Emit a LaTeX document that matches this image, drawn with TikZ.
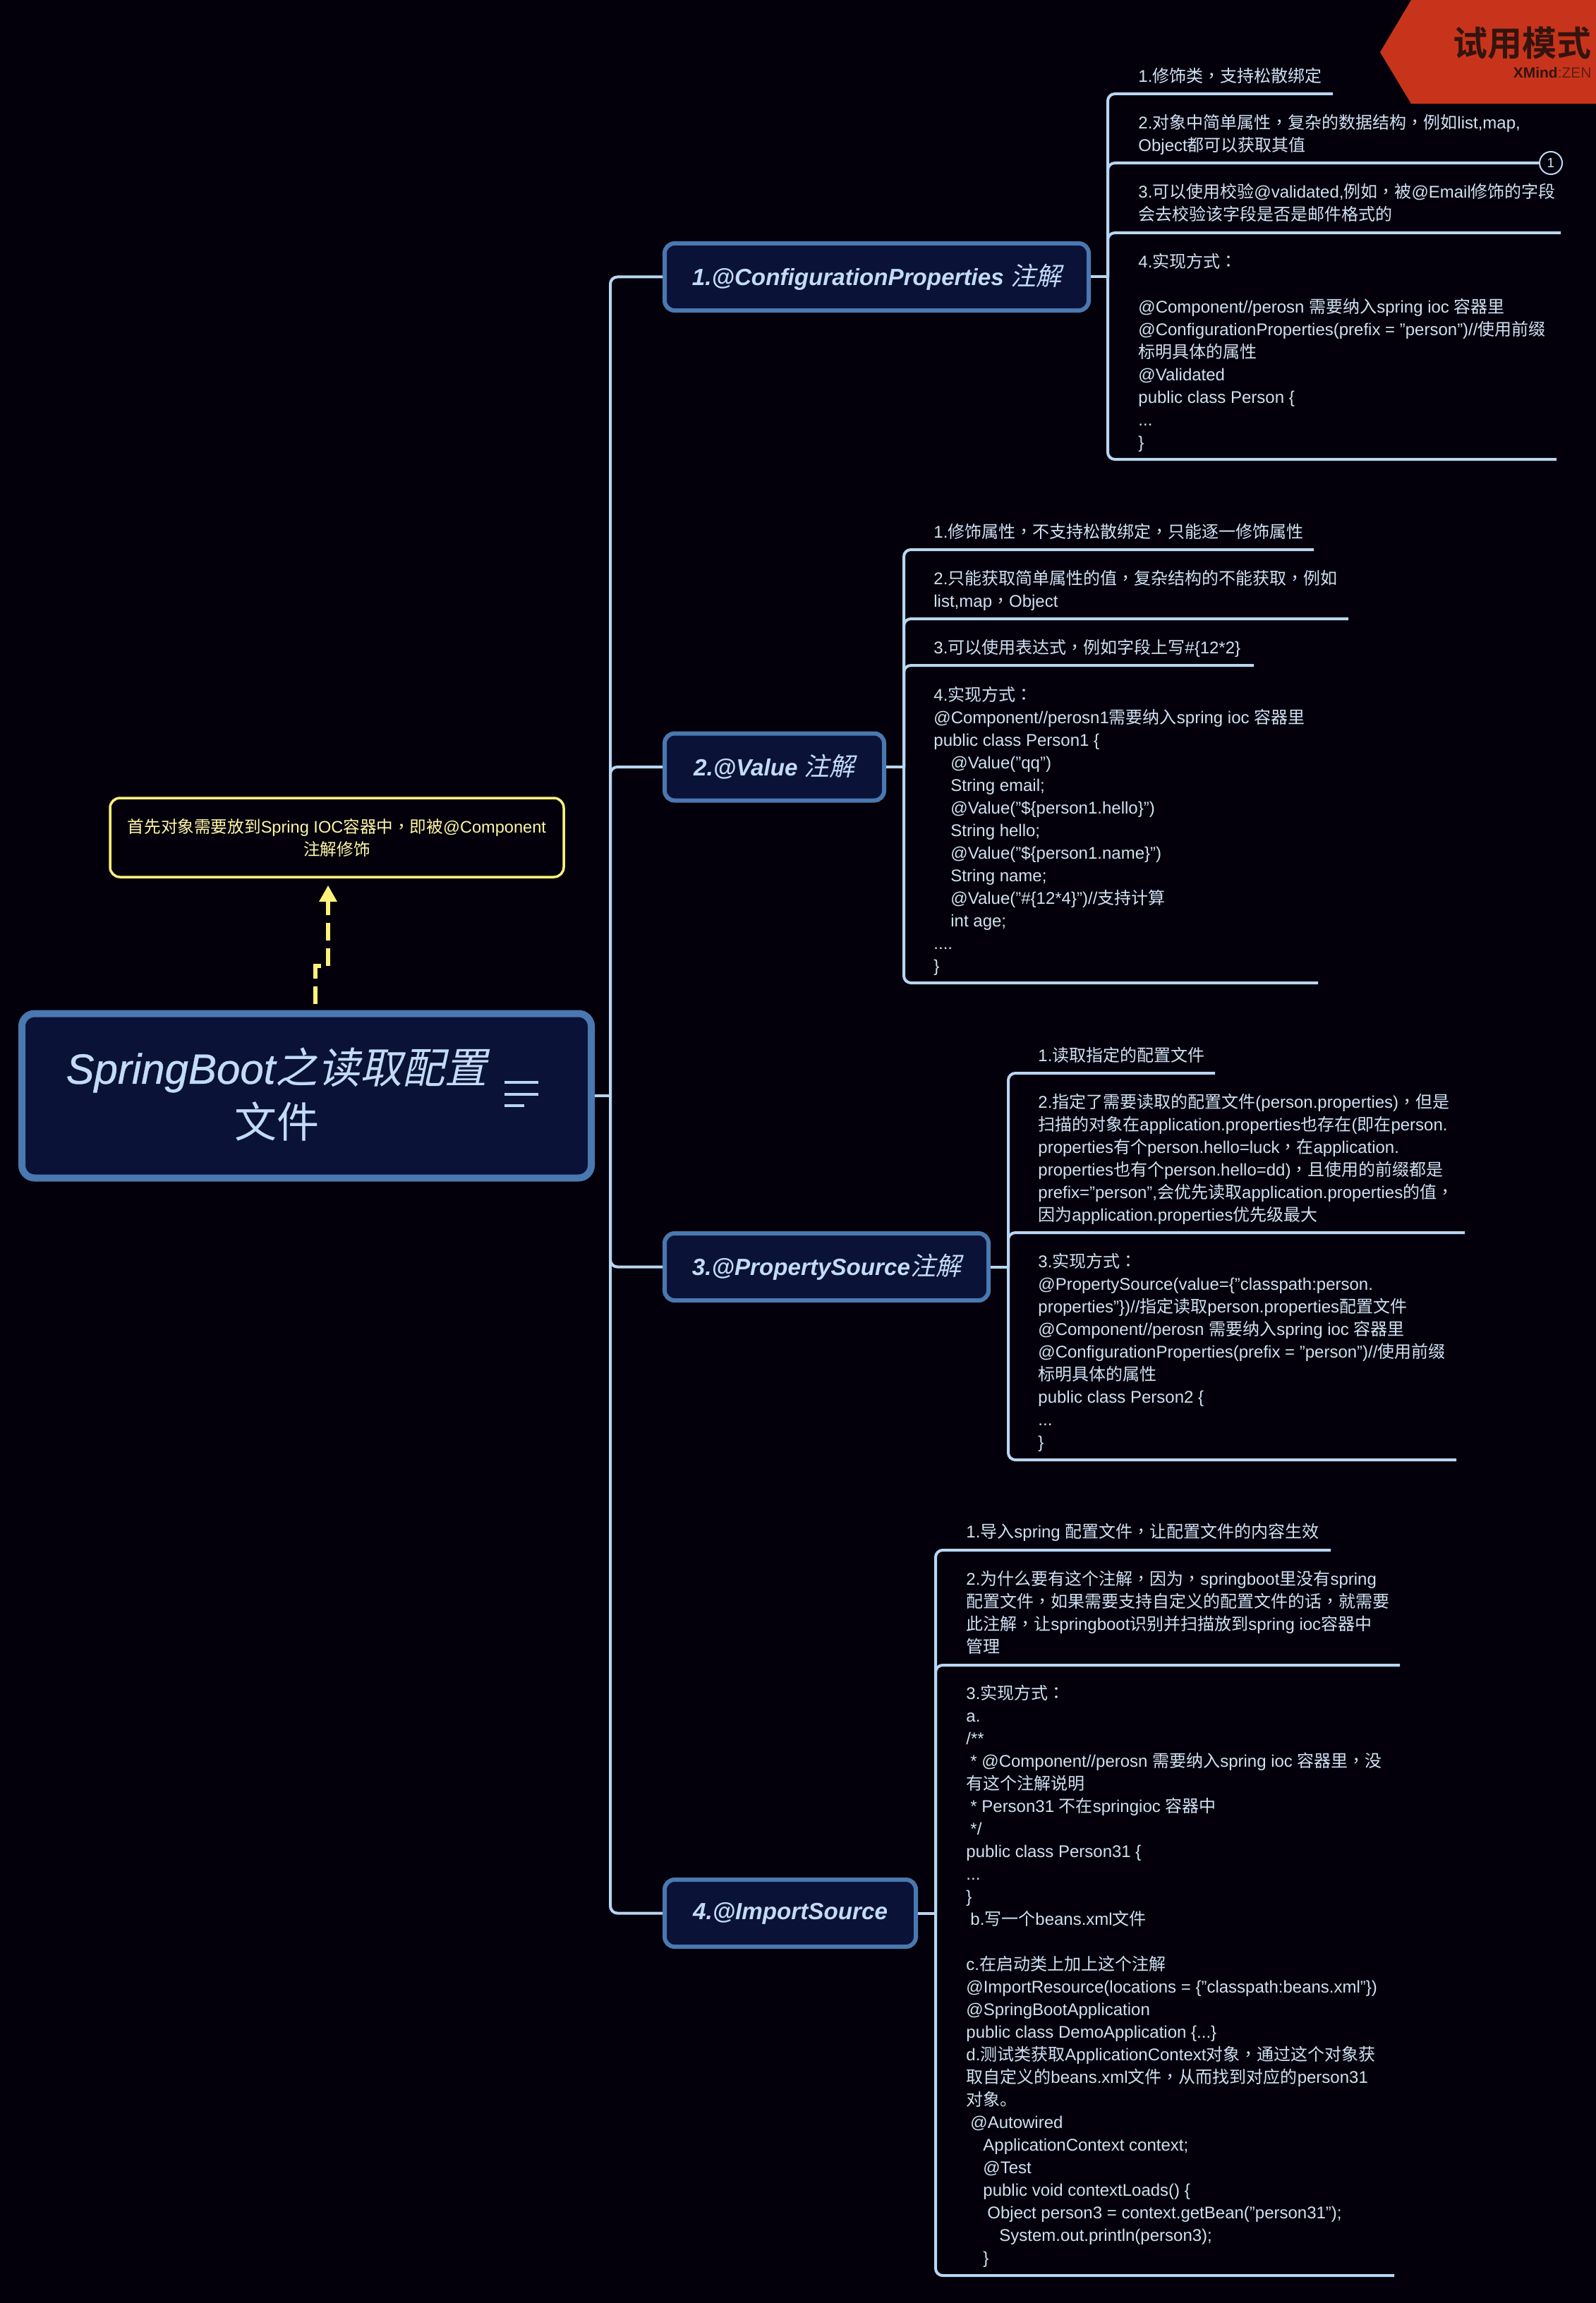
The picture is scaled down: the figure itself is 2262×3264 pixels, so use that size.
\documentclass[tikz,border=0pt]{standalone}
\usepackage{fontspec}
\usetikzlibrary{arrows.meta}
\setmainfont{Liberation Sans}
\newfontfamily\cjk{Noto Sans CJK SC}
\newfontfamily\cjkp{Noto Sans CJK TC}
\newfontfamily\cjkslant[FakeSlant=0.22]{Noto Sans CJK SC}
\newfontfamily\cjkbold[BoldFont=*]{Noto Sans CJK SC Bold}
\newfontfamily\rootlatin[ItalicFont=*,FakeSlant=0.0,FakeBold=0.6]{Liberation Sans Italic}
\newcount\cjkcc
\newXeTeXintercharclass\cjkcl
\newXeTeXintercharclass\cjkpu
\cjkcc="2E80 \loop \XeTeXcharclass\cjkcc=\cjkcl \advance\cjkcc 1 \ifnum\cjkcc<"A000 \repeat
\cjkcc="FF00 \loop \XeTeXcharclass\cjkcc=\cjkcl \advance\cjkcc 1 \ifnum\cjkcc<"FFF0 \repeat
\XeTeXcharclass"FF0C=\cjkpu
\XeTeXcharclass"FF1A=\cjkpu
\XeTeXinterchartoks 0 \cjkcl={\cjk}
\XeTeXinterchartoks 4095 \cjkcl={\cjk}
\XeTeXinterchartoks \cjkcl 0={\rmfamily}
\XeTeXinterchartoks \cjkcl 4095={\rmfamily}
\XeTeXinterchartoks 0 \cjkpu={\cjkp}
\XeTeXinterchartoks 4095 \cjkpu={\cjkp}
\XeTeXinterchartoks \cjkcl \cjkpu={\cjkp}
\XeTeXinterchartoks \cjkpu \cjkcl={\cjk}
\XeTeXinterchartoks \cjkpu 0={\rmfamily}
\XeTeXinterchartoks \cjkpu 4095={\rmfamily}
\XeTeXinterchartokenstate=1
\newcommand{\txtstrut}{\rule[-5pt]{0pt}{11pt}}
\newcommand{\ind}[1]{\hspace*{#1pt}}
\newcommand{\ttl}[2]{\XeTeXinterchartokenstate=0 \raisebox{-0.5pt}{\fontsize{16.6}{20}\selectfont\textbf{\textit{#1}}{\fontsize{18}{20}\selectfont\cjkslant #2}}}
\definecolor{bgc}{HTML}{04000B}
\definecolor{linec}{HTML}{B9D6F2}
\definecolor{txtc}{HTML}{D0E2F4}
\definecolor{ttlc}{HTML}{C2DBF7}
\definecolor{topicfill}{HTML}{0A1238}
\definecolor{topicline}{HTML}{4A78B0}
\definecolor{yel}{HTML}{FFF27A}
\definecolor{yeltxt}{HTML}{FFF8A8}
\definecolor{banner}{HTML}{C8341B}
\definecolor{bantxt}{HTML}{33140E}
\tikzset{
  txt/.style={anchor=north west,yshift=6pt,inner sep=0pt,align=left,text=txtc,
    font=\fontsize{12}{16}\selectfont,execute at begin node=\txtstrut},
  topic/.style={draw=topicline,line width=3pt,fill=topicfill,rounded corners=7pt,
    text=ttlc,inner sep=0pt,font=\fontsize{17}{20}\selectfont},
  conn/.style={draw=linec,line width=2pt,rounded corners=5pt},
  stub/.style={draw=linec,line width=2pt},
}
\begin{document}
\begin{tikzpicture}[x=0.5pt,y=-0.5pt]
\useasboundingbox (0,0) rectangle (2262,3264);
\fill[bgc] (0,0) rectangle (2262,3264);
% banner
\fill[banner] (2000,0) -- (1956,74) -- (2000,147) -- (2262,147) -- (2262,0) -- cycle;
\node[anchor=east,inner sep=0pt,text=bantxt,font=\fontsize{24.5}{28}\selectfont] (ban1) at (2256,61) {\XeTeXinterchartokenstate=0 \cjkbold 试用模式};
\node[anchor=east,inner sep=0pt,text=bantxt,font=\fontsize{10.5}{12}\selectfont] (ban2) at (2256,103) {\textbf{XMind}\textcolor{bantxt!70!banner}{:ZEN}};
% root
\node[topic,line width=5pt,rounded corners=9pt,minimum width=403.5pt,minimum height=116.5pt] (root) at (434.5,1553) {};
\node[anchor=center,inner sep=0pt,text=ttlc,font=\fontsize{30}{38.5}\selectfont,align=center] (rootlabel) at (392,1551.5)
  {\XeTeXinterchartokenstate=0 {\rootlatin SpringBoot}{\cjkslant 之读取配置}\\{\cjkslant 文件}};
\draw[line width=2pt,linec] (715,1534) -- (763,1534) (715,1551) -- (763,1551) (715,1567) -- (743,1567);
% note
\node[draw=yel,line width=1.75pt,rounded corners=7pt,minimum width=321.5pt,minimum height=56pt,inner sep=0pt,
  text=yeltxt,align=center,font=\fontsize{11.8}{16}\selectfont,fill=bgc] (note) at (477.5,1187)
  {首先对象需要放到Spring IOC容器中，即被@Component\\注解修饰};
\coordinate (kink) at (465,1369);
\draw[yel,line width=2.75pt,dash pattern=on 12.5pt off 5.5pt,shorten <=4.5pt,shorten >=5pt,-{Triangle[length=11.5pt,width=12pt]}]
  ([xshift=6.25pt]root.north) |- (kink) -- ([xshift=-6.25pt]note.south);
% topics
\node[topic,minimum width=300.5pt,minimum height=47.5pt] (t1) at (1242.5,392.5) {\ttl{1.@ConfigurationProperties }{注解}};
\node[topic,minimum width=155.5pt,minimum height=47.5pt] (t2) at (1097.5,1087) {\ttl{2.@Value }{注解}};
\node[topic,minimum width=229.5pt,minimum height=47.5pt] (t3) at (1171.5,1795.5) {\ttl{3.@PropertySource}{注解}};
\node[topic,minimum width=178pt,minimum height=47.5pt] (t4) at (1120,2711.5) {\ttl{4.@ImportSource}{}};
% main connectors
\coordinate (mt) at (865,1553);
\draw[stub] (root.east) -- (mt);
\draw[conn] (mt) |- (t1.west);
\draw[conn] (mt) |- (t2.west);
\draw[conn] (mt) |- (t3.west);
\draw[conn] (mt) |- (t4.west);
% branch 1
\coordinate (b1) at (1570,392.5);
\coordinate (u11) at (1889,133);
\coordinate (u13) at (2212,330);
\coordinate (u14) at (2206,651);
\node[draw=linec!90!white,line width=1pt,circle,minimum size=16pt,inner sep=0pt,fill=bgc,text=txtc,font=\fontsize{9.5}{10}\selectfont] (badge) at (2198,231) {1};
\draw[stub] (t1.east) -- (b1);
\draw[conn] (b1) |- (u11);
\draw[conn] (b1) |- (badge.west);
\draw[conn] (b1) |- (u13);
\draw[conn] (b1) |- (u14);
\node[txt] (c11) at (1613,107.5) {1.修饰类，支持松散绑定};
\node[txt] (c12) at (1613,174) {2.对象中简单属性，复杂的数据结构，例如list,map,\\Object都可以获取其值};
\node[txt] (c13) at (1613,272) {3.可以使用校验@validated,例如，被@Email修饰的字段\\会去校验该字段是否是邮件格式的};
\node[txt] (c14) at (1613,371) {4.实现方式：\\[16pt]@Component//perosn 需要纳入spring ioc 容器里\\@ConfigurationProperties(prefix = "person")//使用前缀\\标明具体的属性\\@Validated\\public class Person \{\\...\\\}};
% branch 2
\coordinate (b2) at (1281,1087);
\coordinate (u21) at (1862,779);
\coordinate (u22) at (1911,877);
\coordinate (u23) at (1777,943);
\coordinate (u24) at (1868,1393);
\draw[stub] (t2.east) -- (b2);
\draw[conn] (b2) |- (u21);
\draw[conn] (b2) |- (u22);
\draw[conn] (b2) |- (u23);
\draw[conn] (b2) |- (u24);
\node[txt] (c21) at (1323,754) {1.修饰属性，不支持松散绑定，只能逐一修饰属性};
\node[txt] (c22) at (1323,820) {2.只能获取简单属性的值，复杂结构的不能获取，例如\\list,map，Object};
\node[txt] (c23) at (1323,918) {3.可以使用表达式，例如字段上写\#\{12*2\}};
\node[txt] (c24) at (1323,985) {4.实现方式：\\@Component//perosn1需要纳入spring ioc 容器里\\public class Person1 \{\\\ind{12}@Value("qq")\\\ind{12}String email;\\\ind{12}@Value("\$\{person1.hello\}")\\\ind{12}String hello;\\\ind{12}@Value("\$\{person1.name\}")\\\ind{12}String name;\\\ind{12}@Value("\#\{12*4\}")//支持计算\\\ind{12}int age;\\....\\\}};
% branch 3
\coordinate (b3) at (1429,1795.5);
\coordinate (u31) at (1722,1521);
\coordinate (u32) at (2076,1747);
\coordinate (u33) at (2064,2069);
\draw[stub] (t3.east) -- (b3);
\draw[conn] (b3) |- (u31);
\draw[conn] (b3) |- (u32);
\draw[conn] (b3) |- (u33);
\node[txt] (c31) at (1471,1496) {1.读取指定的配置文件};
\node[txt] (c32) at (1471,1562) {2.指定了需要读取的配置文件(person.properties)，但是\\扫描的对象在application.properties也存在(即在person.\\properties有个person.hello=luck，在application.\\properties也有个person.hello=dd)，且使用的前缀都是\\prefix="person",会优先读取application.properties的值，\\因为application.properties优先级最大};
\node[txt] (c33) at (1471,1788) {3.实现方式：\\@PropertySource(value=\{"classpath:person.\\properties"\})//指定读取person.properties配置文件\\@Component//perosn 需要纳入spring ioc 容器里\\@ConfigurationProperties(prefix = "person")//使用前缀\\标明具体的属性\\public class Person2 \{\\...\\\}};
% branch 4
\coordinate (b4) at (1326,2711.5);
\coordinate (u41) at (1886,2197);
\coordinate (u42) at (1984,2360);
\coordinate (u43) at (1976,3225);
\draw[stub] (t4.east) -- (b4);
\draw[conn] (b4) |- (u41);
\draw[conn] (b4) |- (u42);
\draw[conn] (b4) |- (u43);
\node[txt] (c41) at (1369,2171) {1.导入spring 配置文件，让配置文件的内容生效};
\node[txt] (c42) at (1369,2238) {2.为什么要有这个注解，因为，springboot里没有spring\\配置文件，如果需要支持自定义的配置文件的话，就需要\\此注解，让springboot识别并扫描放到spring ioc容器中\\管理};
\node[txt] (c43) at (1369,2400) {3.实现方式：\\a.\\/**\\\ind{3}* @Component//perosn 需要纳入spring ioc 容器里，没\\有这个注解说明\\\ind{3}* Person31 不在springioc 容器中\\\ind{3}*/\\public class Person31 \{\\...\\\}\\\ind{3}b.写一个beans.xml文件\\[16pt]c.在启动类上加上这个注解\\@ImportResource(locations = \{"classpath:beans.xml"\})\\@SpringBootApplication\\public class DemoApplication \{...\}\\d.测试类获取ApplicationContext对象，通过这个对象获\\取自定义的beans.xml文件，从而找到对应的person31\\对象。\\\ind{3}@Autowired\\\ind{12}ApplicationContext context;\\\ind{12}@Test\\\ind{12}public void contextLoads() \{\\\ind{15}Object person3 = context.getBean("person31");\\\ind{23.5}System.out.println(person3);\\\ind{12}\}};
\end{tikzpicture}
\end{document}
